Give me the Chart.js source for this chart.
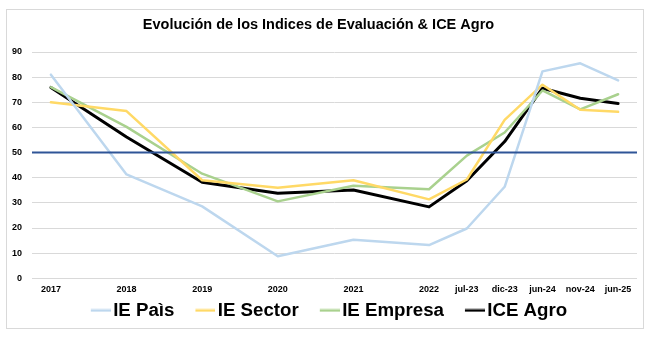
<!DOCTYPE html>
<html>
<head>
<meta charset="utf-8">
<script src="https://cdn.jsdelivr.net/npm/chart.js@4.4.1/dist/chart.umd.min.js"></script>
<style>
  html, body { margin: 0; padding: 0; background: #ffffff; }
  #wrap { position: relative; width: 653px; height: 337px; }
  #frame { position: absolute; left: 6px; top: 9px; width: 638px; height: 320px;
           box-sizing: border-box; border: 1px solid #d9d9d9; }
  #chart { position: absolute; left: 0; top: 0; }
</style>
</head>
<body>
<div id="wrap">
  <div id="frame"></div>
  <canvas id="chart" width="653" height="337"></canvas>
</div>
<script>
// Periods on the x axis: yearly points sit two slots apart, the half-year
// points from jul-23 onwards one slot apart. Empty slots carry no value.
const periods = ['2017', '', '2018', '', '2019', '', '2020', '', '2021', '', '2022',
                 'jul-23', 'dic-23', 'jun-24', 'nov-24', 'jun-25'];

const iePais    = [81.0, null, 41.3, null, 28.6, null,  8.8, null, 15.3, null, 13.2, 19.8, 36.4, 82.3, 85.5, 78.7];
const ieSector  = [70.0, null, 66.5, null, 39.0, null, 36.0, null, 39.0, null, 31.4, 39.3, 63.0, 77.0, 67.0, 66.2];
const ieEmpresa = [76.0, null, 60.2, null, 41.6, null, 30.6, null, 36.8, null, 35.4, 48.8, 58.0, 74.7, 67.2, 73.2];
const iceAgro   = [75.9, null, 56.2, null, 38.2, null, 33.8, null, 35.1, null, 28.4, 38.8, 54.4, 75.6, 71.6, 69.5];

const seriesNames = ['IE Paìs', 'IE Sector', 'IE Empresa', 'ICE Agro'];
const neutralLevel = 50;
const yTicks = { min: 0, max: 90, step: 10 };

const FONT = "'Liberation Sans', Arial, sans-serif";

// Short legend stroke, placed so that it ends right before the label text.
function legendStroke(color, width) {
  const c = document.createElement('canvas');
  c.width = 48; c.height = 4;
  const g = c.getContext('2d');
  g.strokeStyle = color;
  g.lineWidth = width;
  g.beginPath();
  g.moveTo(28, 2);
  g.lineTo(48, 2);
  g.stroke();
  return c;
}

// Horizontal reference line across the whole plot area.
const neutralLine = {
  id: 'neutralLine',
  afterDatasetsDraw(chart) {
    const { ctx, chartArea, scales } = chart;
    const y = scales.y.getPixelForValue(neutralLevel);
    ctx.save();
    ctx.strokeStyle = '#2f5597';
    ctx.lineWidth = 2;
    ctx.beginPath();
    ctx.moveTo(chartArea.left, y);
    ctx.lineTo(chartArea.right, y);
    ctx.stroke();
    ctx.restore();
  }
};

const colors = ['#bdd7ee', '#ffd966', '#a9d18e', '#000000'];
const widths = [2.5, 2.5, 2.5, 3];
const values = [iePais, ieSector, ieEmpresa, iceAgro];

new Chart(document.getElementById('chart'), {
  type: 'line',
  data: {
    labels: periods,
    datasets: values.map((v, i) => ({
      label: seriesNames[i],
      data: v,
      borderColor: colors[i],
      backgroundColor: colors[i],
      borderWidth: widths[i],
      pointRadius: 0,
      pointHoverRadius: 0,
      tension: 0,
      spanGaps: true,
      borderJoinStyle: 'round',
      borderCapStyle: 'round'
    }))
  },
  options: {
    responsive: false,
    animation: false,
    devicePixelRatio: 1,
    layout: { padding: { left: 0, right: 16, top: 6, bottom: 7.2 } },
    plugins: {
      tooltip: { enabled: false },
      title: {
        display: true,
        text: 'Evolución de los Indices de Evaluación & ICE Agro',
        color: '#000000',
        font: { family: FONT, size: 14.5, weight: 'bold' },
        padding: { top: 10, bottom: 18.6 }
      },
      legend: {
        position: 'bottom',
        labels: {
          usePointStyle: true,
          pointStyleWidth: 34,
          padding: 0,
          color: '#000000',
          font: { family: FONT, size: 18.7, weight: 'bold' },
          generateLabels(chart) {
            const items = Chart.defaults.plugins.legend.labels.generateLabels(chart);
            items.forEach((it, i) => {
              it.pointStyle = legendStroke(colors[i], 2.5);
            });
            return items;
          }
        }
      }
    },
    scales: {
      x: {
        offset: true,
        grid: { display: false, drawTicks: false },
        border: { display: false },
        ticks: {
          autoSkip: false,
          maxRotation: 0,
          padding: 6,
          color: '#000000',
          font: { family: FONT, size: 9, weight: 'bold' }
        }
      },
      y: {
        min: yTicks.min,
        max: yTicks.max,
        afterFit(scale) { scale.width = 32; },
        grid: { color: '#d9d9d9', lineWidth: 1, drawTicks: false },
        border: { display: false },
        ticks: {
          stepSize: yTicks.step,
          padding: 10,
          color: '#000000',
          font: { family: FONT, size: 9, weight: 'bold' }
        }
      }
    }
  },
  plugins: [neutralLine]
});
</script>
</body>
</html>
